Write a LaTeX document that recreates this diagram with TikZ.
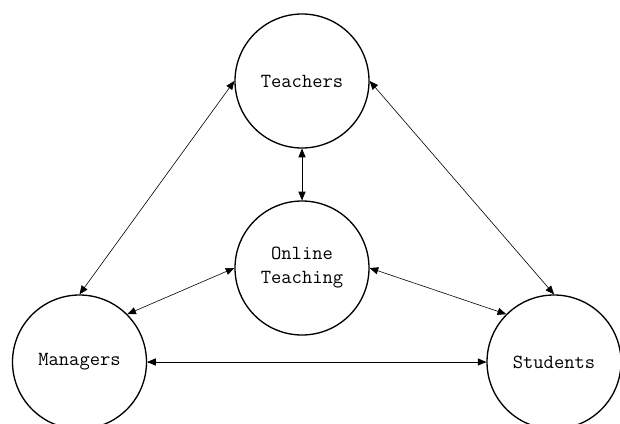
\documentclass[tikz,border=0pt]{standalone}
\usepackage{tikz}
\usetikzlibrary{arrows}
\tikzset{
  actor/.style={draw,circle,line width=1pt,minimum size=100.5pt,inner sep=0pt,
    font=\ttfamily\fontsize{15}{18}\selectfont,align=center},
  link/.style={<->,line width=0.45pt}
}
\begin{document}
\begin{tikzpicture}[line cap=round,line join=round,>=triangle 45,x=0.75pt,y=-0.75pt]
		\useasboundingbox (0,0) rectangle (620,424);
		\clip (0,0) rectangle (620,424);
		\node[actor] (teachers) at (302,81) {Teachers};
		\node[actor] (online) at (302,268) {Online\\Teaching};
		\node[actor] (managers) at (79.5,362) {Managers};
		\node[actor] (students) at (554,362) {Students};
		\draw [link] (teachers.west) -- (managers.north);
		\draw [link] (teachers.east) -- (students.north);
		\draw [link] (teachers.south) -- (online.north);
		\draw [link] (online.west) -- (managers.45);
		\draw [link] (online.east) -- (students.135);
		\draw [link] (managers.east) -- (students.west);
	\end{tikzpicture}
\end{document}
